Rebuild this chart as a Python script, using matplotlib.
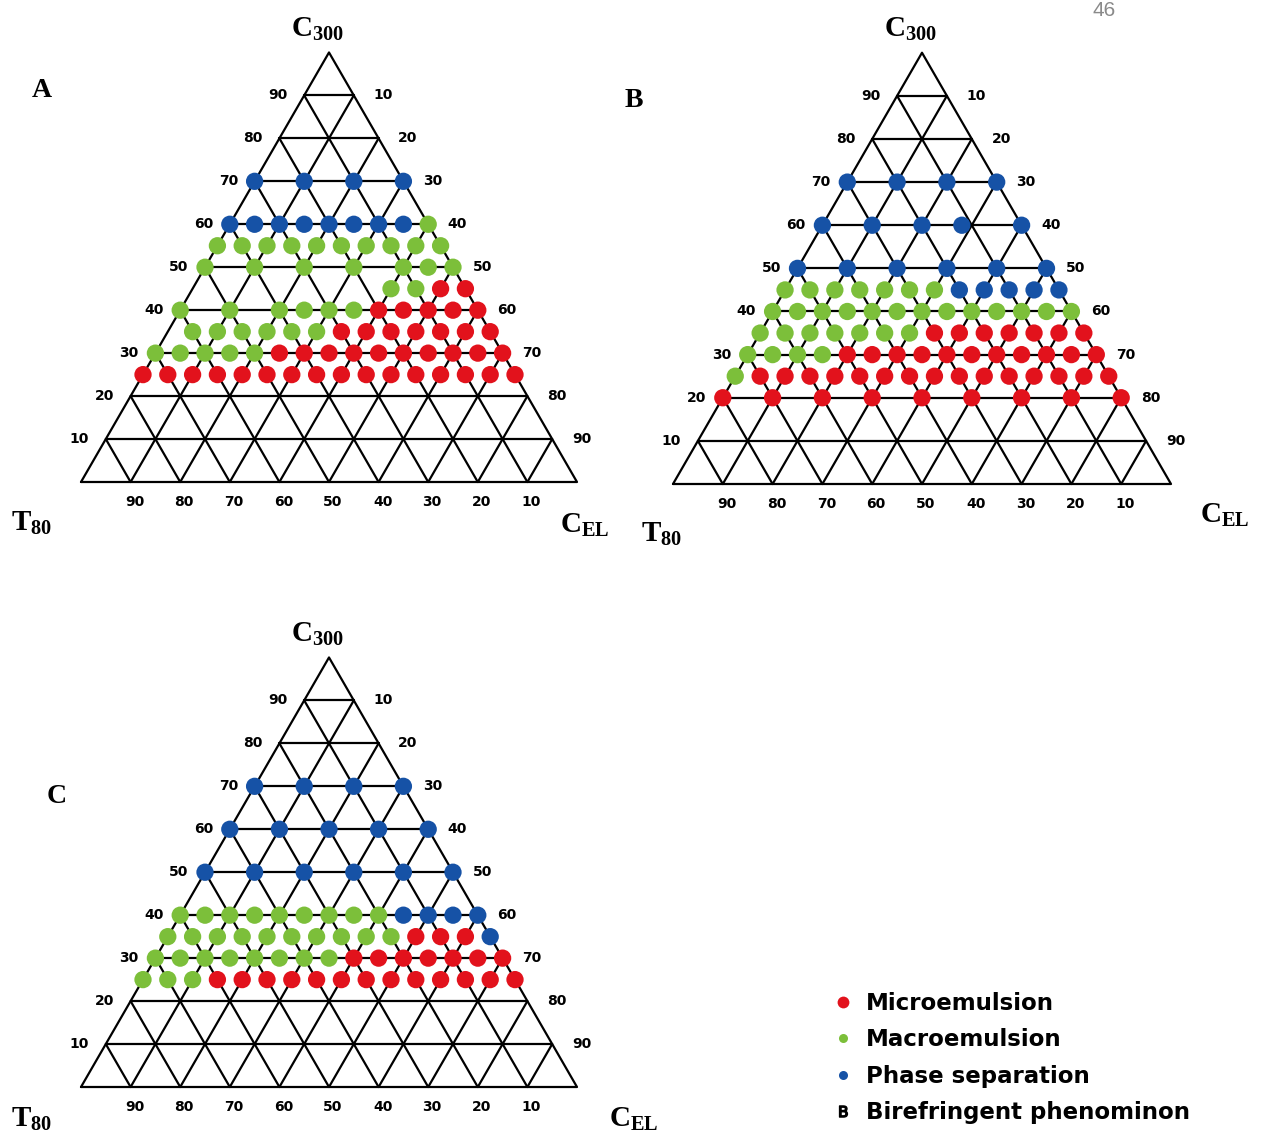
import numpy as np
import matplotlib
matplotlib.use("Agg")
import matplotlib.pyplot as plt
from matplotlib.lines import Line2D

plt.rcParams['mathtext.fontset'] = 'custom'
plt.rcParams['mathtext.rm'] = 'Liberation Serif:bold'
plt.rcParams['mathtext.it'] = 'Liberation Serif:bold'
plt.rcParams['mathtext.bf'] = 'Liberation Serif:bold'

# Data: for each panel, {C300 %: [CEL %, ...]} per phase behaviour
A_PHASE = {70: [0, 10, 20, 30],
           60: [0, 5, 10, 15, 20, 25, 30, 35]}
A_MACRO = {60: [40],
           55: [0, 5, 10, 15, 20, 25, 30, 35, 40, 45],
           50: [0, 10, 20, 30, 40, 45, 50],
           45: [40, 45],
           40: [0, 10, 20, 25, 30, 35],
           35: [5, 10, 15, 20, 25, 30],
           30: [0, 5, 10, 15, 20]}
A_MICRO = {45: [50, 55],
           40: [40, 45, 50, 55, 60],
           35: [35, 40, 45, 50, 55, 60, 65],
           30: [25, 30, 35, 40, 45, 50, 55, 60, 65, 70],
           25: [0, 5, 10, 15, 20, 25, 30, 35, 40, 45, 50, 55, 60, 65, 70, 75]}

B_PHASE = {70: [0, 10, 20, 30],
           60: [0, 10, 20, 28, 40],
           50: [0, 10, 20, 30, 40, 50],
           45: [35, 40, 45, 50, 55]}
B_MACRO = {45: [0, 5, 10, 15, 20, 25, 30],
           40: [0, 5, 10, 15, 20, 25, 30, 35, 40, 45, 50, 55, 60],
           35: [0, 5, 10, 15, 20, 25, 30],
           30: [0, 5, 10, 15],
           25: [0]}
B_MICRO = {35: [35, 40, 45, 50, 55, 60, 65],
           30: [20, 25, 30, 35, 40, 45, 50, 55, 60, 65, 70],
           25: [5, 10, 15, 20, 25, 30, 35, 40, 45, 50, 55, 60, 65, 70, 75],
           20: [0, 10, 20, 30, 40, 50, 60, 70, 80]}

C_PHASE = {70: [0, 10, 20, 30],
           60: [0, 10, 20, 30, 40],
           50: [0, 10, 20, 30, 40, 50],
           40: [45, 50, 55, 60],
           35: [65]}
C_MACRO = {40: [0, 5, 10, 15, 20, 25, 30, 35, 40],
           35: [0, 5, 10, 15, 20, 25, 30, 35, 40, 45],
           30: [0, 5, 10, 15, 20, 25, 30, 35],
           25: [0, 5, 10]}
C_MICRO = {35: [50, 55, 60],
           30: [40, 45, 50, 55, 60, 65, 70],
           25: [15, 20, 25, 30, 35, 40, 45, 50, 55, 60, 65, 70, 75]}

GRID_TICKS = [10, 20, 30, 40, 50, 60, 70, 80, 90]
LEGEND_LABELS = ['Microemulsion', 'Macroemulsion', 'Phase separation', 'Birefringent phenominon']

RED = '#e2121c'
GREEN = '#7cbf3a'
BLUE = '#1652a6'

W, H = 1264, 1133
S3 = np.sqrt(3) / 2

fig = plt.figure(figsize=(W / 100, H / 100), dpi=100)
fig.patch.set_facecolor('white')


def to_xy(c300, cel):
    c300 = np.asarray(c300, dtype=float)
    cel = np.asarray(cel, dtype=float)
    return cel + c300 / 2, c300 * S3


def panel_axes(x0, y0, s):
    # x0, y0: pixel position of the T80 corner, s: pixels per percent
    xmin, xmax, ymin, ymax = -30, 130, -25, 112
    left = (x0 + xmin * s) / W
    width = (xmax - xmin) * s / W
    bottom = (H - y0 + ymin * s) / H
    height = (ymax - ymin) * s / H
    ax = fig.add_axes([left, bottom, width, height])
    ax.set_xlim(xmin, xmax)
    ax.set_ylim(ymin, ymax)
    ax.axis('off')
    return ax


def draw_grid(ax):
    kw = dict(color='black', lw=1.6, solid_capstyle='round', zorder=1)
    # outer triangle
    x, y = to_xy([0, 0, 100, 0], [0, 100, 0, 0])
    ax.plot(x, y, **kw)
    for k in GRID_TICKS:
        x, y = to_xy([k, k], [0, 100 - k])          # constant C300
        ax.plot(x, y, **kw)
        x, y = to_xy([0, 100 - k], [k, k])          # constant CEL
        ax.plot(x, y, **kw)
        x, y = to_xy([0, 100 - k], [100 - k, 0])    # constant T80
        ax.plot(x, y, **kw)

    tk = dict(fontsize=10, fontweight='heavy', family='DejaVu Sans',
              ha='center', va='center')
    for k in GRID_TICKS:
        x, y = to_xy(k, 0)
        ax.text(x - 5.3, y, str(k), **tk)
        x, y = to_xy(k, 100 - k)
        ax.text(x + 5.9, y, str(100 - k), **tk)
        x, y = to_xy(0, k)
        ax.text(x + 0.8, y - 4.0, str(100 - k), **tk)


def draw_points(ax, rows, color):
    for c300, cels in rows.items():
        x, y = to_xy([c300] * len(cels), cels)
        ax.scatter(x, y, s=155, color=color, edgecolors='none', zorder=3)


def draw_labels(ax, letter, letter_xy, t80_xy, cel_xy):
    sty = dict(fontsize=21, ha='center', va='center')
    ax.text(47.7, 91.4, r'$\mathrm{C}_{\mathrm{300}}$', **sty)
    ax.text(t80_xy[0], t80_xy[1], r'$\mathrm{T}_{\mathrm{80}}$', **sty)
    ax.text(cel_xy[0], cel_xy[1], r'$\mathrm{C}_{\mathrm{EL}}$', **sty)
    ax.text(letter_xy[0], letter_xy[1], letter, fontsize=20, fontweight='bold',
            family='Liberation Serif', ha='center', va='center')


panels = [
    ((81, 482, 4.96), 'A', A_MICRO, A_MACRO, A_PHASE, (-7.9, 79.0), (-9.9, -8.2), (101.5, -8.6)),
    ((673, 484, 4.98), 'B', B_MICRO, B_MACRO, B_PHASE, (-7.9, 77.0), (-2.2, -10.0), (110.8, -6.3)),
    ((81, 1087, 4.96), 'C', C_MICRO, C_MACRO, C_PHASE, (-5.0, 58.6), (-9.9, -6.4), (111.5, -6.4)),
]

for geom, letter, micro, macro, phase, lxy, txy, cxy in panels:
    ax = panel_axes(*geom)
    draw_grid(ax)
    draw_points(ax, micro, RED)
    draw_points(ax, macro, GREEN)
    draw_points(ax, phase, BLUE)
    draw_labels(ax, letter, lxy, txy, cxy)

# page number at the top edge
fig.text(1104 / W, 1 - 16 / H, '46', fontsize=15, color='#8a8a8a',
         family='Liberation Sans', ha='center', va='baseline')

handles = [
    Line2D([], [], ls='none', marker='o', ms=8.5, color=RED, mec='none'),
    Line2D([], [], ls='none', marker='o', ms=6.5, color=GREEN, mec='none'),
    Line2D([], [], ls='none', marker='o', ms=6.5, color=BLUE, mec='none'),
    Line2D([], [], ls='none', marker=r'$\mathsf{B}$', ms=8, color='black'),
]
fig.legend(handles, LEGEND_LABELS, loc='upper left',
           bbox_to_anchor=(834 / W, 1 - 992 / H), frameon=False,
           prop={'family': 'DejaVu Sans', 'weight': 'heavy', 'size': 16.5},
           handlelength=0.8, handletextpad=0.6, labelspacing=0.58,
           borderaxespad=0, borderpad=0)

fig.savefig('out.png', dpi=100, facecolor='white')
